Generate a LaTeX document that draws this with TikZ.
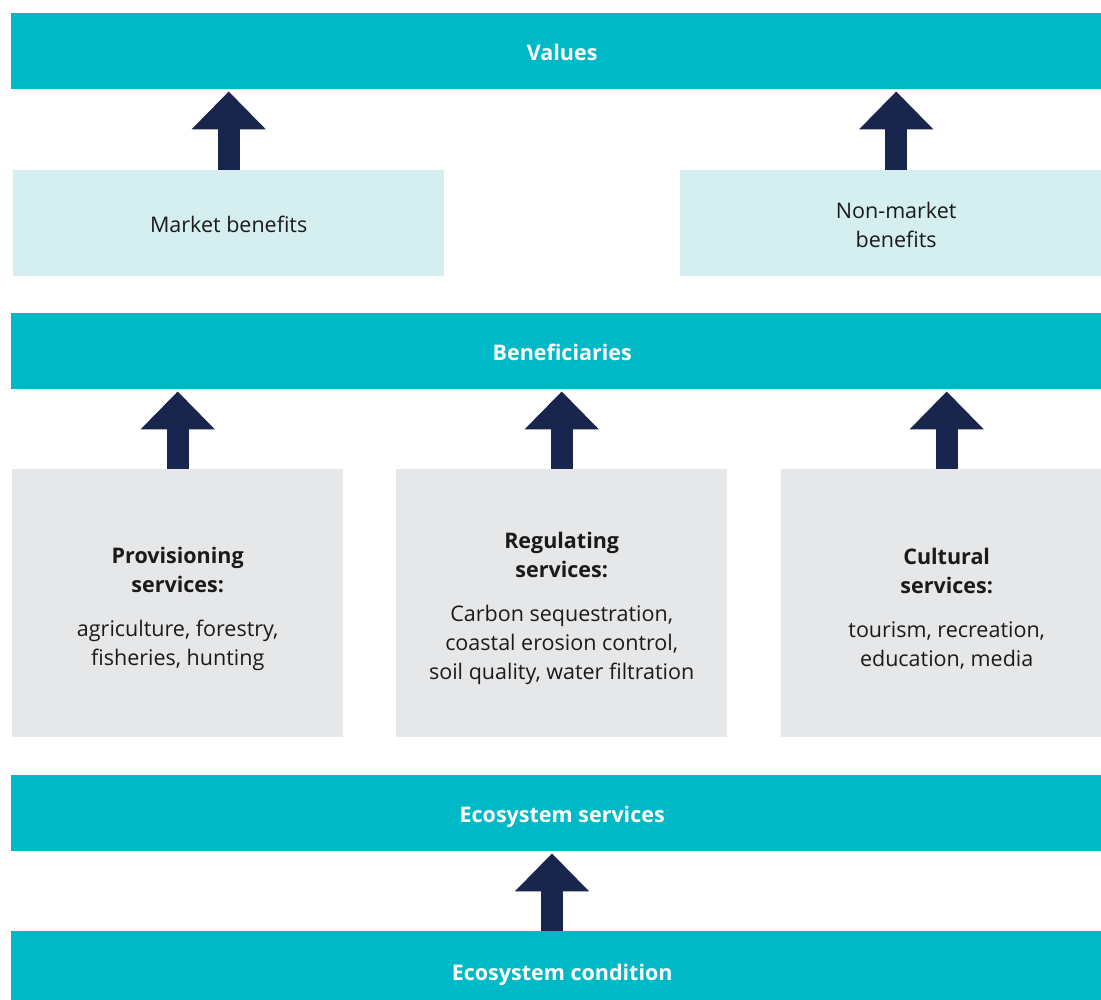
\documentclass[tikz,border=0pt]{standalone}
\usepackage{fontspec}
\setmainfont{Open Sans}
\usetikzlibrary{arrows.meta,calc}
\definecolor{teal}{HTML}{00B9C6}
\definecolor{paleblue}{HTML}{D5EEF0}
\definecolor{palegray}{HTML}{E6E7E9}
\definecolor{navy}{HTML}{18254D}
\definecolor{ink}{HTML}{1A1A1A}
\newcommand{\lift}[1]{\rule{0pt}{#1}}
\begin{document}
\begin{tikzpicture}[x=1pt,y=-1pt,
  bar/.style={fill=teal,text=white,font=\fontsize{21.5}{25}\selectfont\bfseries,minimum width=1102pt,minimum height=76pt,inner sep=0pt,text height=19.5pt,text depth=0pt,anchor=north west},
  benefit/.style={fill=paleblue,text=ink,font=\fontsize{21.5}{29}\selectfont,minimum width=#1,minimum height=106pt,inner sep=0pt,anchor=north west,align=center},
  service/.style={fill=palegray,text=ink,font=\fontsize{21.5}{29}\selectfont,minimum width=331pt,minimum height=268pt,inner sep=0pt,anchor=north west,align=center},
  uparrow/.style={draw=navy,line width=22pt,-{Triangle[width=72pt,length=38pt]},shorten >=2pt}]
\useasboundingbox (0,0) rectangle (1101,1000);
\node[bar] (values) at (11,13) {Values};
\node[benefit=431pt] (market) at (13,170) {\lift{19pt}Market benefits};
\node[benefit=432pt] (nonmarket) at (680,170) {\lift{20pt}Non-market\\benefits};
\node[bar] (benef) at (11,313) {Beneficiaries};
\node[service] (prov) at (12,469) {\lift{27pt}\textbf{Provisioning}\\\textbf{services:}\\[15pt]agriculture, forestry,\\fisheries, hunting};
\node[service] (reg) at (396,469) {\lift{27pt}\textbf{Regulating}\\\textbf{services:}\\[15pt]Carbon sequestration,\\coastal erosion control,\\soil quality, water filtration};
\node[service] (cult) at (781,469) {\lift{27pt}\textbf{Cultural}\\\textbf{services:}\\[15pt]tourism, recreation,\\education, media};
\node[bar] (ess) at (11,775) {Ecosystem services};
\node[bar,minimum height=80pt] (cond) at (11,931) {Ecosystem condition};
\coordinate (essup) at (552,931);
\draw[uparrow] (market.north) -- (market.north |- values.south);
\draw[uparrow] (nonmarket.north) -- (nonmarket.north |- values.south);
\draw[uparrow] (prov.north) -- (prov.north |- benef.south);
\draw[uparrow] (reg.north) -- (reg.north |- benef.south);
\draw[uparrow] (cult.north) -- (cult.north |- benef.south);
\draw[uparrow] (essup) -- (essup |- ess.south);
\end{tikzpicture}
\end{document}
